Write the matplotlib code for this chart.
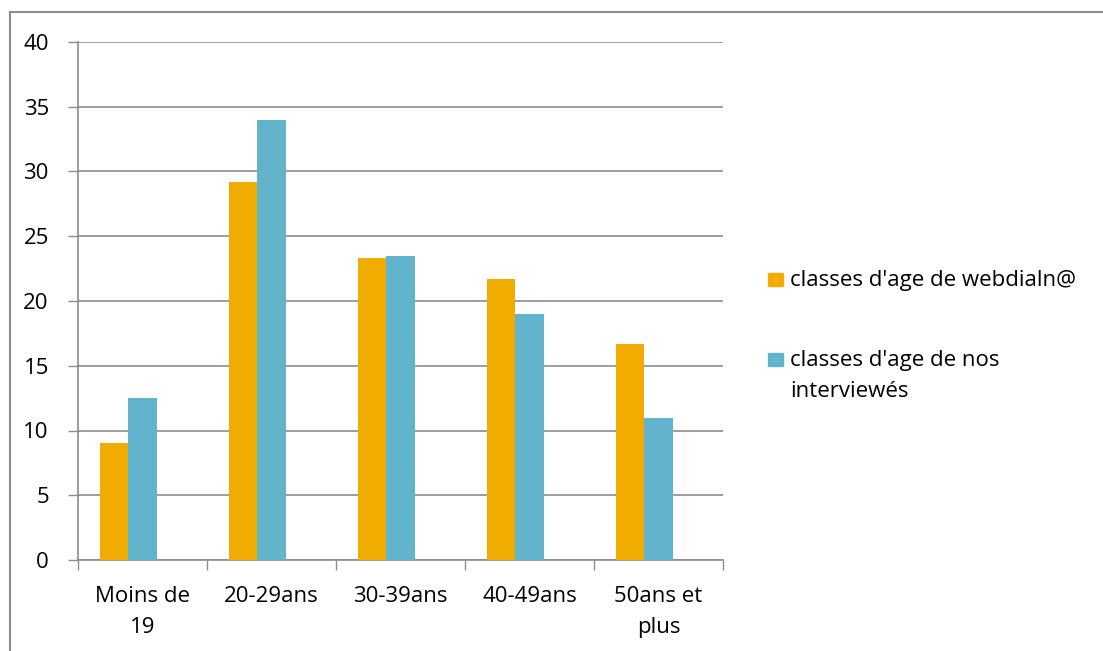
import numpy as np
import matplotlib.pyplot as plt
from matplotlib.patches import Rectangle

# data
categories = ["Moins de\n19", "20-29ans", "30-39ans", "40-49ans", "50ans et\nplus"]
webdialna = [9.0, 29.2, 23.3, 21.7, 16.7]
interviewes = [12.5, 34.0, 23.5, 19.0, 11.0]
series_labels = ["classes d'age de webdialn@", "classes d'age de nos\ninterviewés"]
yticks = [0, 5, 10, 15, 20, 25, 30, 35, 40]

c_orange = '#F0AC00'
c_blue = '#62B3CC'
c_grid = '#8C8C8C'

plt.rcParams['font.family'] = ['Open Sans', 'DejaVu Sans']
fs = 16

W, H = 1103, 651
fig = plt.figure(figsize=(W / 100, H / 100), dpi=100)
ax = fig.add_axes([78 / W, 1 - 560 / H, (723 - 78) / W, (560 - 42) / H])

# Excel layout: 3 slots per category (third empty), gap 150%
w = 1 / 4.5
x = np.arange(len(categories))
ax.bar(x - w, webdialna, width=w, color=c_orange, zorder=3)
ax.bar(x, interviewes, width=w, color=c_blue, zorder=3)

ax.set_xlim(-0.5, len(categories) - 0.5)
ax.set_ylim(0, 40)
ax.set_yticks(yticks)
ax.set_yticklabels([str(v) for v in yticks])
ax.set_xticks(np.arange(len(categories) + 1) - 0.5, minor=False)
ax.set_xticklabels([])
ax.set_xticks(x, minor=True)
ax.set_xticklabels(categories, minor=True, linespacing=1.6)
ax.tick_params(axis='x', which='minor', length=0, pad=19, labelsize=fs)
ax.tick_params(axis='x', which='major', length=7, color=c_grid, width=1)
ax.tick_params(axis='y', length=7, color=c_grid, width=1, pad=14, labelsize=fs)

ax.grid(axis='y', color=c_grid, linewidth=1.2, zorder=0)
for s in ['top', 'right']:
    ax.spines[s].set_visible(False)
for s in ['left', 'bottom']:
    ax.spines[s].set_color(c_grid)
    ax.spines[s].set_linewidth(1.2)

# legend drawn by hand so the square sits on the first line
leg_y = [280, 360]
for col, lab, yy in zip([c_orange, c_blue], series_labels, leg_y):
    fig.patches.append(Rectangle((768 / W, 1 - (yy + 6) / H), 15 / W, 13 / H,
                                 transform=fig.transFigure, color=col))
    fig.text(790 / W, 1 - (yy - 10) / H, lab, fontsize=fs, va='top', ha='left',
             linespacing=1.6)

# outer chart border
fig.patches.append(Rectangle((10 / W, -0.05), 1.2, 1 - 12 / H + 0.05,
                             transform=fig.transFigure, fill=False,
                             edgecolor=c_grid, linewidth=1.5))

fig.savefig('out.png', dpi=100)
